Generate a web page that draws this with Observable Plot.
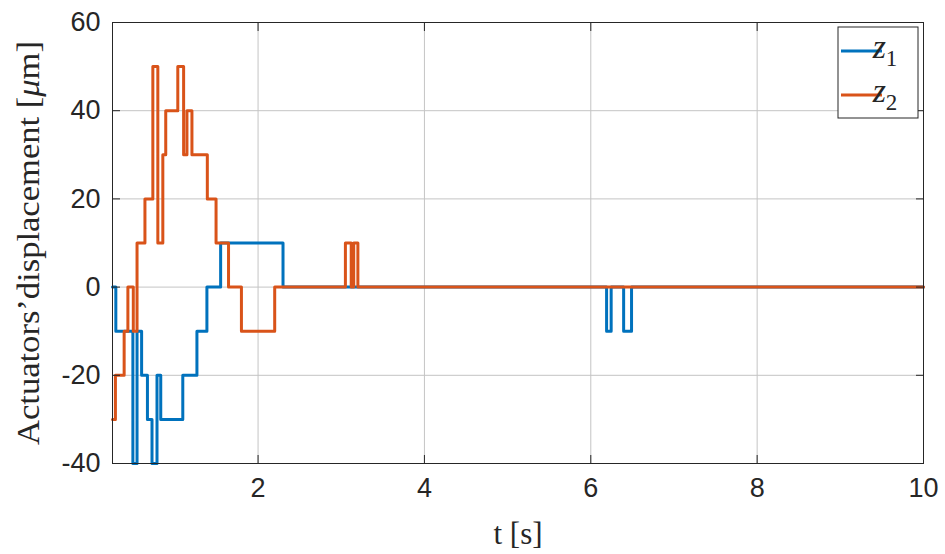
<!DOCTYPE html>
<html><head><meta charset="utf-8">
<script src="https://cdn.jsdelivr.net/npm/d3@7"></script>
<script src="https://cdn.jsdelivr.net/npm/@observablehq/plot@0.6"></script>
<style>body{margin:0;background:#fff} #chart{width:945px;height:554px}</style>
</head><body><div id="chart"></div>
<script>
// time stamps (s) of each step change and value held after it (µm)
const t1 = [0.25, 0.29, 0.495, 0.545, 0.60, 0.67, 0.725, 0.785, 0.83, 1.095, 1.265, 1.385, 1.55, 2.30, 6.19, 6.245, 6.395, 6.49, 10];
const z1 = [0, -10, -40, -10, -20, -30, -40, -20, -30, -20, -10, 0, 10, 0, -10, 0, -10, 0, 0];
const t2 = [0.25, 0.285, 0.39, 0.435, 0.50, 0.545, 0.64, 0.735, 0.795, 0.855, 0.89, 1.035, 1.105, 1.145, 1.205, 1.39, 1.495, 1.645, 1.80, 2.20, 3.05, 3.12, 3.15, 3.20, 10];
const z2 = [-30, -20, -10, 0, -10, 10, 20, 50, 10, 30, 40, 50, 30, 40, 30, 20, 10, 0, -10, 0, 10, 0, 10, 0, 0];
const xTicks = [2, 4, 6, 8, 10];
const yTicks = [-40, -20, 0, 20, 40, 60];
const seriesNames = ["z", "z"];
const seriesSubs = ["1", "2"];
const colors = ["#0072BD", "#D95319"];

const s1 = t1.map((t, i) => ({t, z: z1[i]}));
const s2 = t2.map((t, i) => ({t, z: z2[i]}));
const ink = "#262626";
const fmt = d => String(d);

const svg = Plot.plot({
  width: 945, height: 554,
  marginLeft: 112, marginRight: 22, marginTop: 22, marginBottom: 91,
  style: {fontFamily: "'Liberation Sans', Arial, sans-serif", fontSize: "27px", color: ink, background: "#fff"},
  x: {domain: [0.25, 10]},
  y: {domain: [-40, 60]},
  marks: [
    Plot.gridX(xTicks, {stroke: "#c4c4c4", strokeOpacity: 1}),
    Plot.gridY(yTicks, {stroke: "#c4c4c4", strokeOpacity: 1}),
    Plot.line(s1, {x: "t", y: "z", curve: "step-after", stroke: colors[0], strokeWidth: 3}),
    Plot.line(s2, {x: "t", y: "z", curve: "step-after", stroke: colors[1], strokeWidth: 3}),
    Plot.frame({stroke: ink}),
    Plot.axisX(xTicks, {anchor: "bottom", tickSize: -8, tickFormat: () => "", stroke: ink, label: null}),
    Plot.axisX(xTicks, {anchor: "top", tickSize: -8, tickFormat: () => "", stroke: ink, label: null}),
    Plot.axisY(yTicks, {anchor: "left", tickSize: -8, tickFormat: () => "", stroke: ink, label: null}),
    Plot.axisY(yTicks, {anchor: "right", tickSize: -8, tickFormat: () => "", stroke: ink, label: null}),
    Plot.axisX(xTicks, {anchor: "bottom", tickSize: 0, tickPadding: 14, tickFormat: fmt, label: null, fontSize: 27, fill: ink}),
    Plot.axisY(yTicks, {anchor: "left", tickSize: 0, tickPadding: 12, tickFormat: fmt, label: null, fontSize: 27, fill: ink})
  ]
});

const g = d3.select(svg);
const serif = "'Liberation Serif', 'Times New Roman', serif";
// y label
const yl = g.append("text")
  .attr("transform", "translate(39,243) rotate(-90)")
  .attr("text-anchor", "middle")
  .attr("font-family", serif).attr("font-size", 31).attr("fill", ink)
  .attr("textLength", 404).attr("lengthAdjust", "spacingAndGlyphs");
yl.append("tspan").text("Actuators’displacement [");
yl.append("tspan").attr("font-style", "italic").text("μ");
yl.append("tspan").text("m]");
// x label
g.append("text").attr("x", 518).attr("y", 544).attr("text-anchor", "middle")
  .attr("font-family", serif).attr("font-size", 31).attr("fill", ink).text("t [s]");
// legend
const lg = g.append("g");
lg.append("rect").attr("x", 838).attr("y", 27).attr("width", 80).attr("height", 91)
  .attr("fill", "#fff").attr("stroke", ink).attr("stroke-width", 1);
[51, 95].forEach((yy, i) => {
  lg.append("line").attr("x1", 841).attr("x2", 882).attr("y1", yy).attr("y2", yy)
    .attr("stroke", colors[i]).attr("stroke-width", 3);
  const tx = lg.append("text").attr("x", 885).attr("y", yy + 7)
    .attr("font-family", serif).attr("font-size", 34).attr("fill", ink);
  tx.append("tspan").attr("font-style", "italic").text(seriesNames[i]);
  tx.append("tspan").attr("font-size", 23).attr("dy", 8).text(seriesSubs[i]);
});
document.getElementById("chart").appendChild(svg);
</script>
</body></html>
